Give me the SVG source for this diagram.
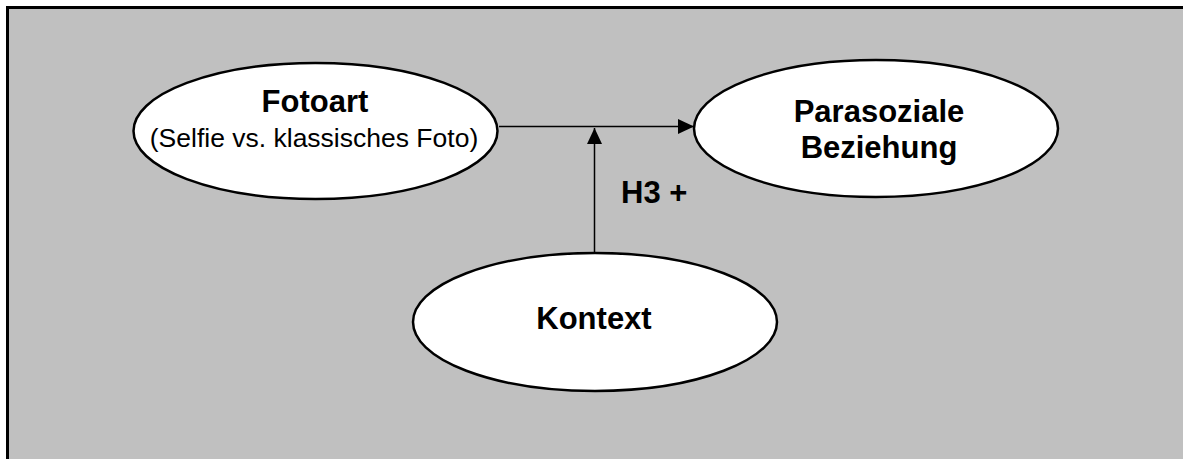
<svg xmlns="http://www.w3.org/2000/svg" width="1183" height="459" viewBox="0 0 1183 459">
  <style>
    .node { fill: #ffffff; stroke: #000000; stroke-width: 2.5; }
    .edge { fill: none; stroke: #000000; stroke-width: 1.5; }
    .title { font-family: "Liberation Sans", Arial, sans-serif; font-weight: bold; font-size: 31px; fill: #000000; text-anchor: middle; }
    .sub { font-family: "Liberation Sans", Arial, sans-serif; font-size: 26.5px; fill: #000000; text-anchor: middle; }
  </style>
  <defs>
    <marker id="arrow" markerUnits="userSpaceOnUse" markerWidth="16" markerHeight="15" refX="16" refY="7.5" orient="auto">
      <path d="M0,0 L16,7.5 L0,15 Z" fill="#000000"/>
    </marker>
  </defs>

  <!-- background panel -->
  <rect x="7.5" y="7.5" width="1190" height="470" fill="#c0c0c0" stroke="#000000" stroke-width="3"/>

  <!-- connectors -->
  <g id="connectors">
    <line class="edge" x1="499" y1="126.5" x2="694" y2="126.5" marker-end="url(#arrow)"/>
    <line class="edge" x1="594.5" y1="253" x2="594.5" y2="128" marker-end="url(#arrow)"/>
    <text class="title" x="621" y="203" text-anchor="start" style="text-anchor:start">H3 +</text>
  </g>

  <g id="fotoart">
    <ellipse class="node" cx="315.5" cy="131" rx="182" ry="68"/>
    <text class="title" x="315" y="112">Fotoart</text>
    <text class="sub" x="314" y="147">(Selfie vs. klassisches Foto)</text>
  </g>

  <g id="parasoziale">
    <ellipse class="node" cx="876" cy="128.5" rx="182" ry="68.5"/>
    <text class="title" x="879" y="122">Parasoziale</text>
    <text class="title" x="879" y="158">Beziehung</text>
  </g>

  <g id="kontext">
    <ellipse class="node" cx="595" cy="322" rx="182" ry="69"/>
    <text class="title" x="594" y="329">Kontext</text>
  </g>
</svg>
